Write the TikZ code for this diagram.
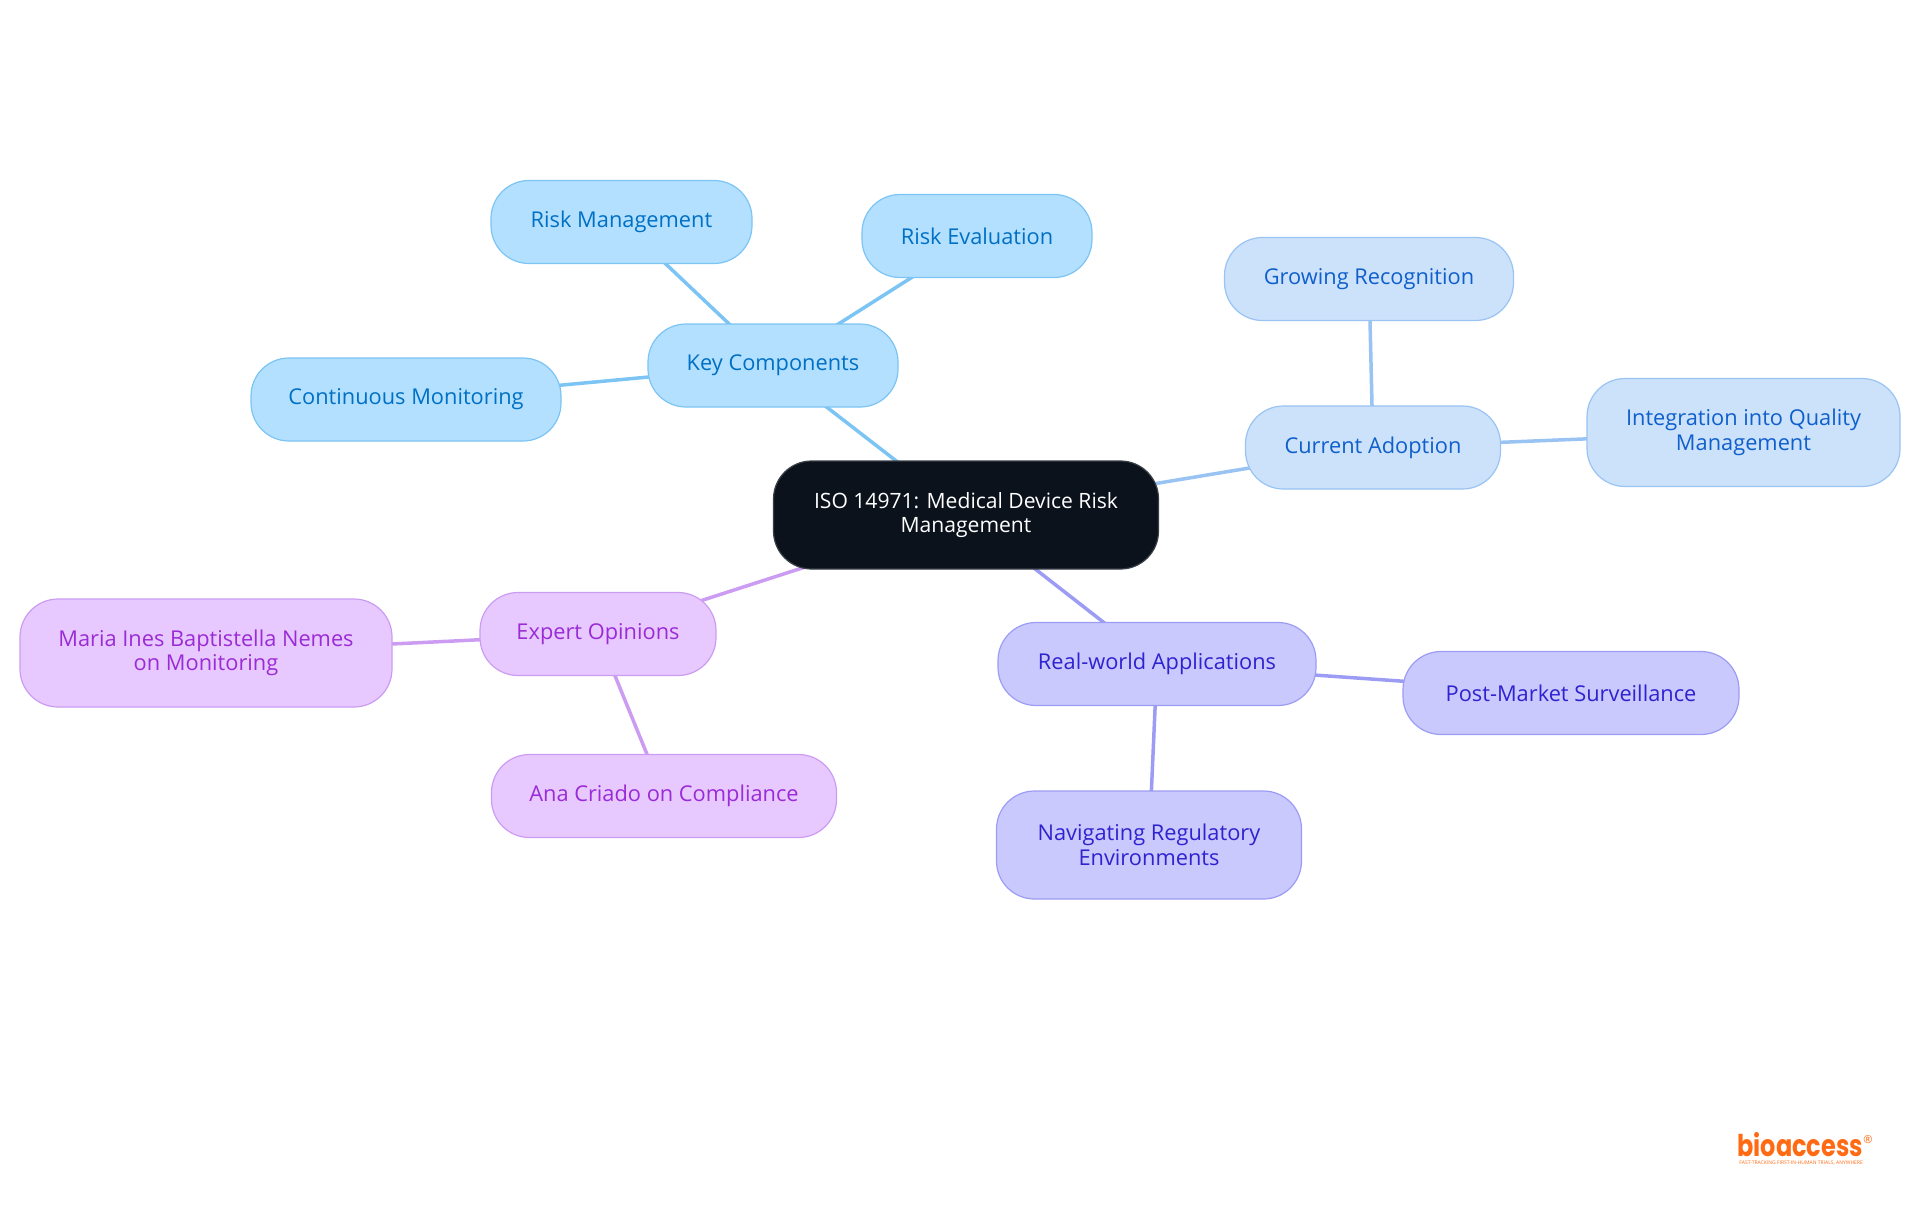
\documentclass[tikz,border=0pt]{standalone}
\usepackage{fontspec}
\setmainfont{Open Sans}
\newfontfamily\logofont[FakeStretch=0.8]{Poppins}
\usetikzlibrary{backgrounds}
\definecolor{rootfill}{HTML}{0B121B}
\definecolor{rootline}{HTML}{3A4048}
\definecolor{bluefill}{HTML}{B3E0FF}
\definecolor{blueline}{HTML}{7CC4F3}
\definecolor{bluetext}{HTML}{0070C4}
\definecolor{skyfill}{HTML}{CCE2FB}
\definecolor{skyline}{HTML}{99C3F3}
\definecolor{skytext}{HTML}{0F5FCC}
\definecolor{indfill}{HTML}{C9C9FE}
\definecolor{indline}{HTML}{9C9CF5}
\definecolor{indtext}{HTML}{2F22CF}
\definecolor{purfill}{HTML}{E7C9FF}
\definecolor{purline}{HTML}{CB9CF2}
\definecolor{purtext}{HTML}{9A2BD6}
\definecolor{logoorange}{HTML}{FF6A13}
\tikzset{
  x=0.5pt,y=-0.5pt,
  mapnode/.style={rounded corners=19pt,line width=0.6pt,inner sep=0pt,align=center,
    font=\fontsize{10.9}{12.2}\selectfont},
  tall/.style={minimum height=54pt},
  short/.style={minimum height=41.5pt},
  rootnode/.style={mapnode,tall,fill=rootfill,draw=rootline,text=white,
    font=\fontsize{10.55}{12.2}\selectfont},
  bluenode/.style={mapnode,short,fill=bluefill,draw=blueline,text=bluetext},
  skynode/.style={mapnode,short,fill=skyfill,draw=skyline,text=skytext},
  indnode/.style={mapnode,short,fill=indfill,draw=indline,text=indtext},
  purnode/.style={mapnode,short,fill=purfill,draw=purline,text=purtext},
  link/.style={line width=1.75pt},
}
\begin{document}
\begin{tikzpicture}
\useasboundingbox (0,0) rectangle (1920,1215);
\node[rootnode,minimum width=192.5pt] (root) at (966,515) {ISO 14971: Medical Device Risk\\Management};
\node[bluenode,minimum width=125pt] (kc) at (773,365.5) {Key Components};
\node[bluenode,minimum width=130.5pt] (rm) at (621.5,222) {Risk Management};
\node[bluenode,minimum width=115pt] (re) at (977,236) {Risk Evaluation};
\node[bluenode,minimum width=155pt] (cm) at (406,399.5) {Continuous Monitoring};
\node[skynode,minimum width=127.5pt] (ca) at (1373,447.5) {Current Adoption};
\node[skynode,minimum width=144.5pt] (gr) at (1369,279) {Growing Recognition};
\node[skynode,tall,minimum width=156.5pt] (iq) at (1743.5,432.5) {Integration into Quality\\Management};
\node[indnode,minimum width=159pt] (rw) at (1157,664) {Real-world Applications};
\node[indnode,minimum width=168pt] (pm) at (1571,693) {Post-Market Surveillance};
\node[indnode,tall,minimum width=152.5pt] (nr) at (1149,845) {Navigating Regulatory\\Environments};
\node[purnode,minimum width=118pt] (eo) at (598,634) {Expert Opinions};
\node[purnode,tall,minimum width=186pt] (mi) at (206,653) {Maria Ines Baptistella Nemes\\on Monitoring};
\node[purnode,minimum width=172.5pt] (ac) at (664,796) {Ana Criado on Compliance};
\begin{pgfonlayer}{background}
\draw[link,blueline] (root.center) -- (kc.center);
\draw[link,blueline] (kc.center) -- (rm.center);
\draw[link,blueline] (kc.center) -- (re.center);
\draw[link,blueline] (kc.center) -- (cm.center);
\draw[link,skyline] (root.center) -- (ca.center);
\draw[link,skyline] (ca.center) -- (gr.center);
\draw[link,skyline] (ca.center) -- (iq.center);
\draw[link,indline] (root.center) -- (rw.center);
\draw[link,indline] (rw.center) -- (pm.center);
\draw[link,indline] (rw.center) -- (nr.center);
\draw[link,purline] (root.center) -- (eo.center);
\draw[link,purline] (eo.center) -- (mi.center);
\draw[link,purline] (eo.center) -- (ac.center);
\end{pgfonlayer}
\node[inner sep=0pt,anchor=base west,text=logoorange,font=\logofont\bfseries\fontsize{15}{15}\selectfont] (logo) at (1737,1156) {bioaccess};
\node[inner sep=0pt,text=logoorange,font=\fontsize{5.5}{5.5}\selectfont] (logomark) at (1868,1140) {®};
\node[inner sep=0pt,anchor=base west,text=logoorange,font=\fontsize{2.5}{2.5}\selectfont] (tagline) at (1739,1164.5) {FAST-TRACKING FIRST-IN-HUMAN TRIALS, ANYWHERE};
\end{tikzpicture}
\end{document}
